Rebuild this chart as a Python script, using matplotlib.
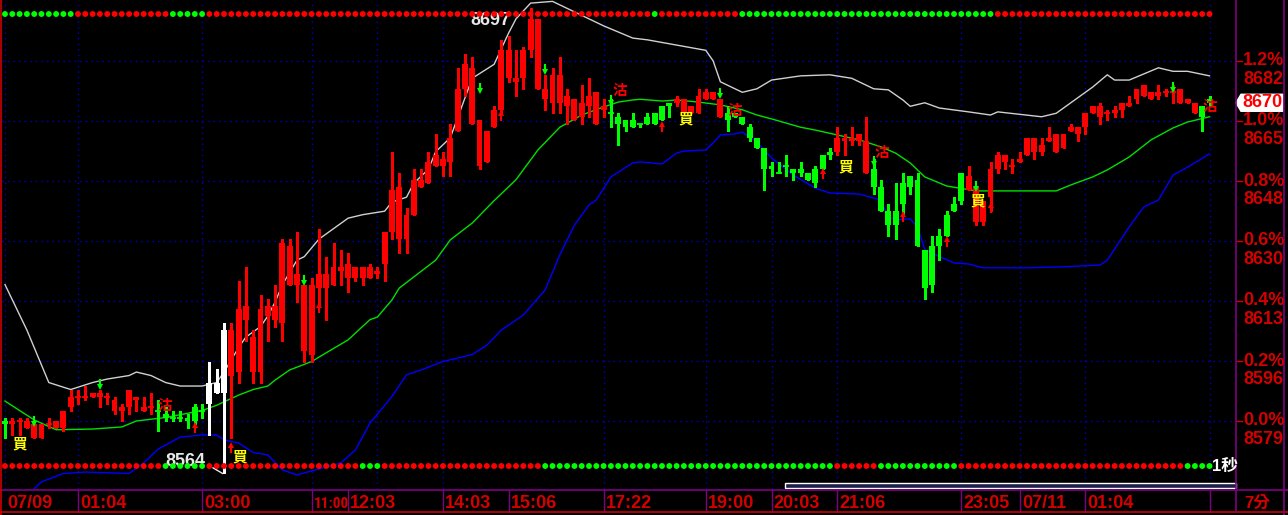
import numpy as np
import matplotlib.pyplot as plt
from matplotlib.patches import Rectangle, Polygon
import matplotlib.transforms as mtransforms

plt.rcParams['font.family'] = ['Liberation Sans', 'Noto Sans CJK TC', 'DejaVu Sans']

base = 8579  # reference price (0.0%)

# OHLC for each 7-minute bar
opens = [8579, 8578, 8579, 8577, 8574, 8574, 8578, 8577, 8577, 8583,
         8586, 8586, 8586, 8586, 8586, 8582, 8582, 8583, 8585, 8582,
         8583, 8582, 8581, 8580, 8580, 8580, 8583, 8582, 8584, 8587,
         8587, 8592, 8593, 8608, 8593, 8593, 8609, 8608, 8607, 8618,
         8618, 8599, 8598, 8617, 8617, 8618, 8622, 8620, 8620, 8620,
         8620, 8621, 8624, 8633, 8631, 8631, 8638, 8646, 8647, 8652,
         8652, 8653, 8662, 8674, 8664, 8652, 8653, 8663, 8668, 8677,
         8676, 8677, 8685, 8674, 8671, 8670, 8670, 8669, 8665, 8666,
         8669, 8664, 8668, 8667, 8666, 8665, 8665, 8664, 8666, 8667,
         8669, 8670, 8670, 8667, 8667, 8667, 8671, 8671, 8666, 8667,
         8667, 8666, 8663, 8660, 8657, 8652, 8650, 8652, 8651, 8651,
         8650, 8651, 8655, 8656, 8656, 8659, 8659, 8659, 8650, 8651,
         8646, 8639, 8639, 8647, 8649, 8648, 8628, 8629, 8632, 8638,
         8641, 8650, 8645, 8636, 8636, 8643, 8651, 8653, 8652, 8653,
         8655, 8656, 8656, 8659, 8656, 8657, 8662, 8661, 8663, 8667,
         8666, 8667, 8667, 8668, 8669, 8671, 8672, 8671, 8672, 8673,
         8673, 8670, 8670, 8667, 8669, 8671]
highs = [8580, 8580, 8580, 8580, 8578, 8578, 8580, 8579, 8582, 8588,
         8588, 8589, 8587, 8588, 8587, 8586, 8584, 8588, 8586, 8586,
         8587, 8585, 8583, 8582, 8582, 8581, 8584, 8584, 8596, 8594,
         8607, 8607, 8619, 8623, 8605, 8615, 8614, 8618, 8631, 8631,
         8633, 8618, 8620, 8634, 8626, 8630, 8628, 8627, 8623, 8623,
         8624, 8623, 8633, 8656, 8650, 8640, 8651, 8651, 8656, 8661,
         8656, 8664, 8680, 8684, 8683, 8665, 8662, 8669, 8688, 8689,
         8685, 8686, 8697, 8694, 8678, 8680, 8683, 8674, 8671, 8675,
         8677, 8673, 8671, 8671, 8667, 8665, 8667, 8664, 8667, 8667,
         8669, 8670, 8672, 8671, 8669, 8674, 8674, 8673, 8671, 8669,
         8667, 8666, 8664, 8660, 8657, 8653, 8653, 8655, 8651, 8653,
         8650, 8652, 8655, 8657, 8663, 8661, 8663, 8661, 8666, 8654,
         8648, 8641, 8647, 8650, 8649, 8650, 8628, 8632, 8634, 8639,
         8643, 8650, 8652, 8646, 8642, 8653, 8656, 8655, 8654, 8656,
         8660, 8660, 8660, 8663, 8661, 8661, 8664, 8663, 8667, 8669,
         8670, 8668, 8669, 8670, 8672, 8674, 8675, 8673, 8675, 8674,
         8675, 8674, 8671, 8670, 8669, 8672]
lows = [8574, 8575, 8575, 8577, 8574, 8574, 8577, 8577, 8576, 8582,
        8584, 8585, 8586, 8583, 8584, 8581, 8579, 8581, 8582, 8582,
        8581, 8576, 8579, 8579, 8579, 8577, 8578, 8580, 8575, 8587,
        8564, 8574, 8590, 8602, 8590, 8590, 8602, 8606, 8602, 8618,
        8613, 8596, 8596, 8612, 8608, 8618, 8618, 8616, 8619, 8618,
        8620, 8620, 8619, 8631, 8627, 8627, 8638, 8646, 8647, 8652,
        8649, 8649, 8662, 8672, 8664, 8651, 8653, 8663, 8667, 8676,
        8672, 8674, 8683, 8674, 8668, 8667, 8667, 8664, 8665, 8664,
        8666, 8664, 8666, 8663, 8658, 8662, 8663, 8663, 8664, 8664,
        8665, 8666, 8669, 8667, 8667, 8667, 8671, 8671, 8666, 8662,
        8666, 8664, 8659, 8657, 8645, 8649, 8650, 8649, 8648, 8649,
        8648, 8646, 8651, 8654, 8655, 8655, 8658, 8658, 8650, 8644,
        8639, 8632, 8631, 8638, 8644, 8629, 8614, 8616, 8625, 8632,
        8639, 8641, 8645, 8635, 8635, 8639, 8650, 8651, 8650, 8653,
        8655, 8654, 8655, 8659, 8656, 8657, 8662, 8659, 8661, 8667,
        8664, 8665, 8666, 8666, 8669, 8670, 8672, 8671, 8671, 8672,
        8670, 8670, 8670, 8667, 8662, 8669]
closes = [8578, 8579, 8579, 8579, 8578, 8578, 8578, 8579, 8582, 8586,
          8586, 8586, 8587, 8587, 8586, 8585, 8583, 8588, 8586, 8583,
          8583, 8582, 8580, 8580, 8580, 8579, 8579, 8582, 8590, 8590,
          8605, 8605, 8611, 8612, 8603, 8611, 8612, 8612, 8630, 8629,
          8621, 8618, 8618, 8621, 8621, 8623, 8623, 8624, 8623, 8623,
          8623, 8622, 8633, 8645, 8646, 8638, 8648, 8648, 8653, 8655,
          8654, 8660, 8674, 8681, 8680, 8665, 8662, 8668, 8685, 8685,
          8677, 8685, 8694, 8694, 8674, 8678, 8678, 8672, 8671, 8670,
          8672, 8673, 8669, 8667, 8664, 8663, 8663, 8664, 8664, 8664,
          8665, 8669, 8671, 8671, 8669, 8672, 8673, 8673, 8671, 8665,
          8666, 8664, 8660, 8657, 8651, 8651, 8650, 8652, 8650, 8650,
          8648, 8647, 8651, 8655, 8660, 8660, 8660, 8661, 8659, 8646,
          8639, 8635, 8635, 8641, 8646, 8629, 8617, 8618, 8629, 8632,
          8639, 8642, 8649, 8646, 8642, 8651, 8655, 8655, 8652, 8654,
          8660, 8660, 8658, 8660, 8661, 8661, 8663, 8663, 8667, 8669,
          8669, 8667, 8668, 8670, 8670, 8674, 8675, 8673, 8673, 8673,
          8673, 8674, 8671, 8670, 8666, 8670]

flat_green = [21, 23, 24, 27, 83, 87, 106, 107]   # doji bars drawn green
white_bars = [28, 29, 30]

# Bollinger-style bands (bar index, price)
upper_band = [(0, 8618), (3, 8605), (6, 8590), (9, 8588), (12, 8590), (14, 8591),
              (17, 8592), (18, 8593), (20, 8592), (22, 8590), (24, 8589), (27, 8589),
              (29, 8590), (30, 8593), (32, 8600), (33, 8603), (35, 8606), (36, 8609),
              (37, 8613), (38, 8618), (40, 8625), (41, 8626), (43, 8631), (45, 8634),
              (47, 8637), (49, 8638), (52, 8639), (53, 8641.6), (55, 8643), (56, 8647),
              (58, 8651), (59, 8656), (61, 8660), (64, 8677), (67, 8681), (69, 8690),
              (70, 8694), (72, 8698.5), (75, 8699), (79, 8695), (82, 8692), (86, 8688.5),
              (88, 8688), (92, 8686.5), (96, 8685), (97, 8682), (98, 8676), (101, 8673),
              (103, 8674), (105, 8676.5), (109, 8677.7), (113, 8678), (116, 8677),
              (119, 8674), (121, 8673.7), (123, 8670.8), (124, 8669), (126, 8670),
              (128, 8668.5), (132, 8667.4), (135, 8666.5), (136, 8667.4), (142, 8666),
              (144, 8667), (146, 8670), (149, 8674.5), (151, 8678), (152, 8676.5),
              (154, 8676.5), (158, 8680), (160, 8679), (162, 8679), (165, 8677.7)]
mid_band = [(0, 8584.7), (4, 8579.3), (7, 8576.5), (12, 8576.7), (16, 8577.3), (18, 8579),
            (22, 8580), (27, 8582), (29, 8583.5), (32, 8586.4), (34, 8588), (36, 8589),
            (37, 8590.7), (39, 8593.6), (40, 8594.4), (42, 8596), (44, 8598.5), (47, 8602.2),
            (50, 8608), (51, 8608.7), (53, 8613.6), (54, 8617), (59, 8625), (61, 8630.8),
            (64, 8635.6), (67, 8642), (70, 8648), (73, 8656.5), (76, 8663), (79, 8666.5),
            (82, 8668.8), (84, 8670.2), (86, 8670.8), (87, 8671), (90, 8670.5), (92, 8670.8),
            (95, 8670.2), (98, 8669.4), (101, 8668), (103, 8666.5), (105, 8665.4),
            (109, 8663), (111, 8662.2), (114, 8660.8), (117, 8659.4), (120, 8657.4),
            (122, 8655.6), (124, 8652.8), (126, 8648.8), (129, 8646.2), (133, 8644.8),
            (139, 8644.8), (144, 8644.8), (146, 8646.5), (149, 8648.8), (151, 8650.8),
            (154, 8654.5), (157, 8659.4), (160, 8662.8), (162, 8664.5), (165, 8666)]
lower_band = [(0, 8552), (5, 8561.6), (8, 8564), (11, 8564.4), (17, 8564), (19, 8567),
              (21, 8571), (24, 8574.4), (27, 8575), (29, 8575), (30, 8573.6), (32, 8572.7),
              (34, 8570), (36, 8569.3), (38, 8565), (40, 8563.6), (42, 8564.7), (46, 8567),
              (48, 8570.7), (50, 8578.4), (53, 8586), (55, 8592.2), (57, 8593.6), (60, 8596),
              (64, 8598), (66, 8600.7), (68, 8605), (71, 8609.3), (74, 8616.5), (76, 8626.5),
              (78, 8635), (80, 8640.8), (81, 8642.2), (83, 8648.8), (86, 8652.8), (87, 8653.1),
              (90, 8652.5), (92, 8655.6), (93, 8656.2), (96, 8656.5), (97, 8658.5),
              (98, 8660.8), (100, 8661.1), (101, 8661.6), (103, 8658.8), (105, 8654.2),
              (108, 8649.3), (111, 8645.6), (113, 8644.2), (117, 8643.9), (120, 8642.2),
              (121, 8637.3), (122, 8636.5), (124, 8636.8), (125, 8634.5), (126, 8628),
              (128, 8626), (130, 8624.2), (132, 8623.9), (134, 8622.8), (140, 8622.8),
              (145, 8623.1), (150, 8623.6), (151, 8625), (154, 8634.5), (156, 8640.2),
              (158, 8642.2), (160, 8649.3), (162, 8651.6), (165, 8655.4)]

# signal marks (bar index, price)
sell_arrows = [(4, 8577.6), (13, 8588.2), (41, 8617.9), (65, 8672.8), (74, 8678.5),
               (83, 8669.4), (98, 8671.6), (119, 8652.2), (133, 8644.8), (160, 8673.1)]
buy_arrows = [(26, 8578.4), (31, 8572.7), (43, 8612.7), (68, 8667.4), (90, 8664.5),
              (112, 8651), (123, 8638.5), (129, 8631.6), (135, 8641.3)]
gu_marks = [(21.9, 8583.6), (84.2, 8673.7), (100, 8668), (120.1, 8655.9), (165, 8669.1)]
mai_marks = [(2, 8572.7), (32.2, 8569), (93.2, 8665.6), (115.2, 8651.9), (133.2, 8642.2)]

top_dot_runs = [('g', 10), ('r', 13), ('g', 5), ('r', 61), ('g', 1), ('r', 11), ('g', 35), ('r', 30)]
bottom_dot_runs = [('r', 22), ('g', 6), ('r', 21), ('g', 3), ('r', 22), ('g', 40), ('r', 6),
                   ('g', 11), ('r', 31), ('g', 4)]

time_idx = [0, 10, 27, 42, 47, 60, 69, 82, 96, 105, 114, 131, 139, 148]
time_labels = ['07/09', '01:04', '03:00', '11:00', '12:03', '14:03', '15:06', '17:22',
               '19:00', '20:03', '21:06', '23:05', '07/11', '01:04']
grid_idx = [0, 10, 27, 42, 51, 60, 82, 96, 105, 114, 131, 139, 148, 165]
pct_levels = [0.0, 0.2, 0.4, 0.6, 0.8, 1.0, 1.2]

RED = '#ff0000'
GREEN = '#00ff00'
AXRED = '#d40000'
PURPLE = '#800080'

W, H = 1288, 515
dx = 7.3                       # pixels per bar
ppu = 60 / (0.002 * base)      # pixels per point
fig = plt.figure(figsize=(W / 100, H / 100), dpi=100, facecolor='black')
ax = fig.add_axes([2 / W, (H - 489) / H, 1234 / W, 489 / H])
ax.set_facecolor('black')
ax.set_xlim((2 - 5) / dx, (1236 - 5) / dx)
ax.set_ylim(base - 68 / ppu, base + 421 / ppu)
ax.axis('off')

ov = fig.add_axes([0, 0, 1, 1])
ov.set_xlim(0, W)
ov.set_ylim(H, 0)
ov.axis('off')

px_price = mtransforms.blended_transform_factory(ov.transData, ax.transData)
idx_px = mtransforms.blended_transform_factory(ax.transData, ov.transData)

# grid
gstyle = dict(color='#0000c8', lw=1, linestyle=(0, (1, 3)), zorder=1)
for p in pct_levels:
    ax.axhline(base * (1 + p / 100), **gstyle)
for g in grid_idx:
    ax.axvline(g, **gstyle)

# bands
for band, col in [(upper_band, '#d0d0d0'), (mid_band, '#00e000'), (lower_band, '#0000ff')]:
    b = np.array(band)
    ax.plot(b[:, 0], b[:, 1], color=col, lw=1, zorder=2)

# candles
o = np.array(opens); h = np.array(highs); l = np.array(lows); c = np.array(closes)
n = len(o)
idx = np.arange(n)
cols = []
for i in range(n):
    if i in white_bars:
        cols.append('#ffffff')
    elif c[i] > o[i]:
        cols.append(RED)
    elif c[i] < o[i]:
        cols.append(GREEN)
    else:
        cols.append(GREEN if i in flat_green else RED)
ax.vlines(idx, l, h, colors=cols, lw=1, zorder=3, antialiased=False)
body = np.abs(c - o)
ax.bar(idx, body, bottom=np.minimum(o, c), width=0.82, color=cols, lw=0, zorder=4,
       antialiased=False)
flat = body == 0
ax.hlines(c[flat], idx[flat] - 0.41, idx[flat] + 0.41, colors=np.array(cols)[flat], lw=1.3, zorder=4)

# signal arrows
stem = 7 / ppu
for i, p in sell_arrows:
    ax.plot([i, i], [p + 1.5 / ppu, p + stem + 1.5 / ppu], color=GREEN, lw=1.5, zorder=5)
    ax.plot(i, p + 1.5 / ppu, marker='v', color=GREEN, ms=5, mew=0, zorder=5)
for i, p in buy_arrows:
    ax.plot([i, i], [p - stem - 1.5 / ppu, p - 1.5 / ppu], color=RED, lw=1.5, zorder=5)
    ax.plot(i, p - 1.5 / ppu, marker='^', color=RED, ms=5, mew=0, zorder=5)
for i, p in gu_marks:
    ax.text(i, p, '沽', color=RED, fontsize=10.5, fontweight='bold', ha='center', va='center',
            family=['Noto Sans CJK TC'], zorder=6)
for i, p in mai_marks:
    ax.text(i, p, '買', color='#ffff00', fontsize=10.5, fontweight='bold', ha='center', va='center',
            family=['Noto Sans CJK TC'], zorder=6)

# high / low notes
hi_i = int(np.argmax(h)); lo_i = int(np.argmin(l))
ax.text(hi_i - 2.8, 8693.4, str(h.max()), color='#e8e8e8', fontsize=13, fontweight='bold',
        ha='right', va='center', zorder=6)
ax.text(lo_i - 2.6, 8567.3, str(l.min()), color='#e8e8e8', fontsize=13, fontweight='bold',
        ha='right', va='center', zorder=6)
ax.plot([lo_i - 1.5, lo_i - 0.2], [l.min() + 1.6, l.min()], color='#e8e8e8', lw=1, zorder=6)

# dot rows
def run_colors(runs):
    out = []
    for col, k in runs:
        out += [GREEN if col == 'g' else RED] * k
    return out

ax.scatter(idx, np.full(n, 14), s=18, c=run_colors(top_dot_runs), marker='o', lw=0,
           transform=idx_px, zorder=7, clip_on=False)
ax.scatter(idx, np.full(n, 466), s=18, c=run_colors(bottom_dot_runs), marker='o', lw=0,
           transform=idx_px, zorder=7, clip_on=False)
ov.text(1212, 466, '1秒', color='white', fontsize=12, fontweight='bold', ha='left', va='center',
        family=['Liberation Sans', 'Noto Sans CJK TC'])

# right price scale
for p in pct_levels:
    lvl = base * (1 + p / 100)
    ov.plot([1237, 1242], [lvl, lvl], color=AXRED, lw=1, transform=px_price)
    ov.text(1243, lvl, f'{p:.1f}%', color=AXRED, fontsize=13, fontweight='bold',
            ha='left', va='center', transform=px_price)
    ov.text(1243, lvl - 18.5 / ppu, f'{round(lvl)}', color=AXRED, fontsize=13, fontweight='bold',
            ha='left', va='center', transform=px_price)
last = c[-1]
hh = 8.5 / ppu
ov.add_patch(Polygon([(1236, last), (1241, last + hh), (1283, last + hh), (1283, last - hh),
                      (1241, last - hh)], closed=True, facecolor='white', edgecolor='white',
                     transform=px_price))
ov.text(1262, last, str(last), color=RED, fontsize=13, fontweight='bold', ha='center',
        va='center', transform=px_price)

# bottom time scale
tl = []
for i, lab in zip(time_idx, time_labels):
    tl.append(ov.text(i + 0.3, 504, lab, color=AXRED, fontsize=13, fontweight='bold', ha='left',
                      va='center', transform=idx_px))
for i in time_idx[1:] + [165]:
    ov.plot([i, i], [490, 512], color=PURPLE, lw=1, transform=idx_px)
ov.text(1244, 503, '7分', color=AXRED, fontsize=12, fontweight='bold', ha='left', va='center',
        family=['Liberation Sans', 'Noto Sans CJK TC'])

# squeeze labels that run into the next one (the original uses a narrow bitmap "1")
renderer = fig.canvas.get_renderer()
for k in range(len(tl) - 1):
    limit = 5 + time_idx[k + 1] * dx + 1
    t = tl[k]
    if t.get_window_extent(renderer).x1 > limit:
        t.set_family(['Roboto Condensed', 'Liberation Sans Narrow', 'DejaVu Sans Condensed',
                      'Liberation Sans'])
        size = 13
        while t.get_window_extent(renderer).x1 > limit and size > 8:
            size -= 0.25
            t.set_fontsize(size)

# frame lines
ov.plot([0, W], [489.5, 489.5], color=PURPLE, lw=1.2)
ov.plot([0, W], [512, 512], color='#cc0000', lw=1.2)
ov.plot([1, 1], [0, H], color='#cc0000', lw=1.2)
ov.plot([1236, 1236], [0, 512], color=PURPLE, lw=1.2)
ov.plot([1284, 1284], [0, H], color=PURPLE, lw=1.2)
ov.add_patch(Rectangle((785, 483), 451, 5, facecolor='#1a2048', edgecolor='white', lw=1))

fig.savefig('out.png', dpi=100, facecolor='black')
